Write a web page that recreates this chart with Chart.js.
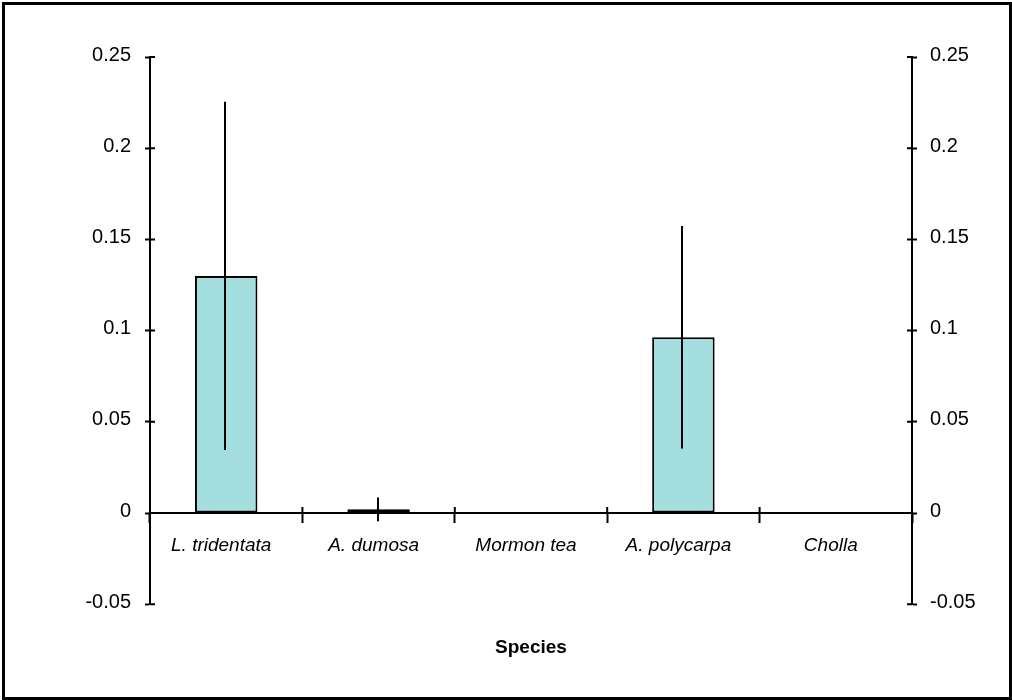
<!DOCTYPE html>
<html><head><meta charset="utf-8">
<script src="https://cdn.jsdelivr.net/npm/chart.js@4.4.1/dist/chart.umd.min.js"></script>
<style>html,body{margin:0;padding:0;background:#fff;} canvas{display:block;}</style>
</head><body>
<canvas id="c" width="1012" height="700"></canvas>
<script>
const categories = ['L. tridentata', 'A. dumosa', 'Mormon tea', 'A. polycarpa', 'Cholla'];
const means = [0.130, 0.002, 0, 0.0963, 0];
const errors = [0.0955, 0.0065, 0, 0.061, 0];
const yTicks = [-0.05, 0, 0.05, 0.1, 0.15, 0.2, 0.25];
const yTickLabels = ['-0.05', '0', '0.05', '0.1', '0.15', '0.2', '0.25'];
const xTitle = 'Species';

const FONT = "'Liberation Sans', Arial, sans-serif";

const extras = {
  id: 'extras',
  afterDatasetsDraw(chart) {
    const ctx = chart.ctx;
    const meta = chart.getDatasetMeta(0);
    const y = chart.scales.y;
    ctx.save();
    ctx.strokeStyle = '#000';
    ctx.lineWidth = 2;
    meta.data.forEach((bar, i) => {
      if (!errors[i]) return;
      const x = Math.round(bar.x) - 1;
      ctx.beginPath();
      ctx.moveTo(x, y.getPixelForValue(means[i] - errors[i]));
      ctx.lineTo(x, y.getPixelForValue(means[i] + errors[i]));
      ctx.stroke();
    });
    ctx.restore();
  },
  afterDraw(chart) {
    const ctx = chart.ctx;
    const {x, y, y2} = chart.scales;
    ctx.save();
    ctx.strokeStyle = '#000';
    ctx.lineWidth = 2;
    ctx.beginPath();
    y.ticks.forEach((t, i) => {
      const p = y.getPixelForTick(i);
      ctx.moveTo(y.right, p); ctx.lineTo(y.right + 5, p);
    });
    y2.ticks.forEach((t, i) => {
      const p = y2.getPixelForTick(i);
      ctx.moveTo(y2.left - 5, p); ctx.lineTo(y2.left, p);
    });
    const y0 = y.getPixelForValue(0);
    const n = x.ticks.length;
    for (let i = 0; i <= n; i++) {
      const p = x.getPixelForValue(i - 0.5);
      ctx.moveTo(p, y0 - 6); ctx.lineTo(p, y0);
    }
    ctx.stroke();
    ctx.lineWidth = 3;
    ctx.strokeRect(3.5, 3.5, 1007, 695);
    ctx.restore();
  }
};

const yAxis = (pos) => ({
  type: 'linear',
  position: pos,
  min: -0.05,
  max: 0.25,
  afterBuildTicks: s => { s.ticks = yTicks.map(v => ({value: v})); },
  afterFit: s => { s.width = pos === 'left' ? 150 : 100; },
  grid: {drawOnChartArea: false, tickLength: 5, tickWidth: 2, tickColor: '#000'},
  border: {color: '#000', width: 2},
  ticks: {
    callback: (v, i) => yTickLabels[i],
    font: {family: FONT, size: 20},
    color: '#000',
    padding: pos === 'left' ? 14 : 13,
    labelOffset: -2
  }
});

new Chart(document.getElementById('c'), {
  type: 'bar',
  data: {
    labels: categories,
    datasets: [{
      data: means,
      backgroundColor: '#a4dede',
      borderColor: '#000',
      borderWidth: 2,
      borderSkipped: false,
      categoryPercentage: 1,
      barPercentage: 0.41
    }]
  },
  options: {
    responsive: false,
    animation: false,
    devicePixelRatio: 1,
    layout: {padding: {top: 57, bottom: 41, left: 0, right: 0}},
    plugins: {
      legend: {display: false},
      tooltip: {enabled: false},
      title: {
        display: true,
        fullSize: false,
        text: xTitle,
        position: 'bottom',
        font: {family: FONT, size: 19, weight: 'bold'},
        color: '#000',
        padding: {top: 32, bottom: 0}
      }
    },
    scales: {
      x: {
        type: 'category',
        position: {y: 0},
        offset: true,
        grid: {offset: true, drawOnChartArea: false, tickLength: 9, tickWidth: 2, tickColor: '#000'},
        border: {color: '#000', width: 2},
        ticks: {
          font: {family: FONT, size: 19, style: 'italic'},
          color: '#000',
          padding: 12,
          labelOffset: -5,
          maxRotation: 0,
          autoSkip: false
        }
      },
      y: yAxis('left'),
      y2: yAxis('right')
    }
  },
  plugins: [extras]
});
</script>
</body></html>
